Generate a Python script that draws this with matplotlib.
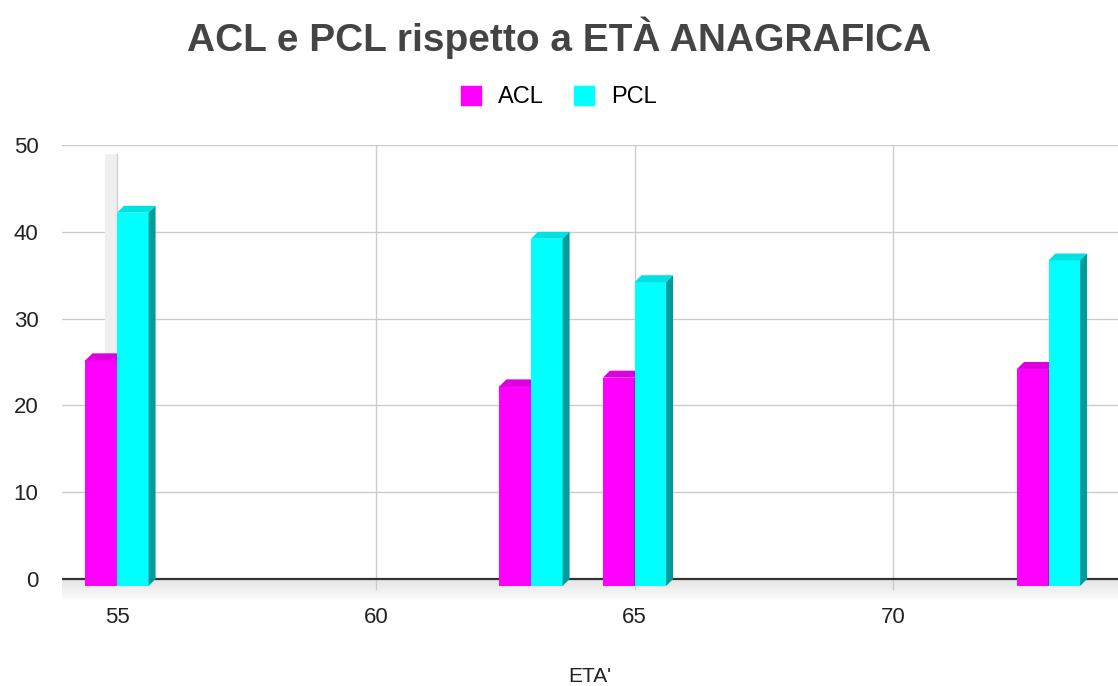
import numpy as np
import matplotlib.pyplot as plt
from matplotlib.patches import Patch, Polygon
from matplotlib.colors import LinearSegmentedColormap

plt.rcParams['font.family'] = ['Liberation Sans', 'DejaVu Sans']

eta = [55, 63, 65, 73]
acl = [26, 23, 24, 25]
pcl = [43, 40, 35, 37.5]

# 3d look: bar width and depth offset (data units)
w = 0.61
dx = 0.135
dy = 0.8

series = [
    ('ACL', acl, -1, '#ff00ff', '#dc00dc', '#990099'),
    ('PCL', pcl, 0, '#00ffff', '#00e2e2', '#009c9c'),
]

fig = plt.figure(figsize=(11.18, 6.86), dpi=100)
ax = fig.add_axes([62 / 1118, 1 - 601.6 / 686, 1 - 62 / 1118, (601.6 - 145) / 686])
ax.set_xlim(53.937, 74.343)
ax.set_ylim(-2.6, 50)

# floor shadow under the baseline
fade = LinearSegmentedColormap.from_list('fade', ['#ffffff', '#e4e4e4'])
ax.imshow(np.linspace(0, 1, 50).reshape(-1, 1), cmap=fade, aspect='auto',
          extent=(53.937, 74.343, -2.6, 0), origin='lower', zorder=0)

# back wall grid
for yv in range(10, 51, 10):
    ax.axhline(yv, color='#cccccc', lw=1, zorder=1)
for xv in [60, 65, 70]:
    ax.plot([xv, xv], [-1.2, 50], color='#cccccc', lw=1, zorder=1)
ax.fill_between([54.77, 55], 0, 49, color='#efefef', lw=0, zorder=1)
ax.plot([55, 55], [0, 49], color='#d0d0d0', lw=1, zorder=1)
ax.axhline(0, color='#333333', lw=1.6, zorder=2)

for name, vals, side, front, top, dark in series:
    x0 = np.array(eta) + side * w
    ax.bar(x0, vals, width=w, bottom=-dy, align='edge', color=front, lw=0, zorder=3)
    for xl, v in zip(x0, vals):
        ax.add_patch(Polygon([(xl, v - dy), (xl + w, v - dy), (xl + w + dx, v), (xl + dx, v)],
                             closed=True, color=top, lw=0, zorder=3))
        ax.add_patch(Polygon([(xl + w, -dy), (xl + w + dx, 0), (xl + w + dx, v), (xl + w, v - dy)],
                             closed=True, color=dark, lw=0, zorder=3))

ax.set_xticks([55, 60, 65, 70])
ax.set_yticks(range(0, 51, 10))
ax.tick_params(length=0, labelsize=16, labelcolor='#222222')
ax.tick_params(axis='y', pad=17)
ax.tick_params(axis='x', pad=4)
for s in ax.spines.values():
    s.set_visible(False)
ax.set_xlabel("ETA'", fontsize=15, color='#222222', labelpad=28)

fig.text(0.5, 1 - 38 / 686, 'ACL e PCL rispetto a ETÀ ANAGRAFICA', ha='center', va='center',
         fontsize=28, fontweight='bold', color='#444444')
handles = [Patch(color=s[3], label=s[0]) for s in series]
fig.legend(handles=handles, loc='center', bbox_to_anchor=(0.5, 1 - 97 / 686), ncol=2,
           frameon=False, fontsize=17, handlelength=0.85, handleheight=0.85,
           handletextpad=0.72, columnspacing=1.27)

fig.savefig('out.png', dpi=100)
